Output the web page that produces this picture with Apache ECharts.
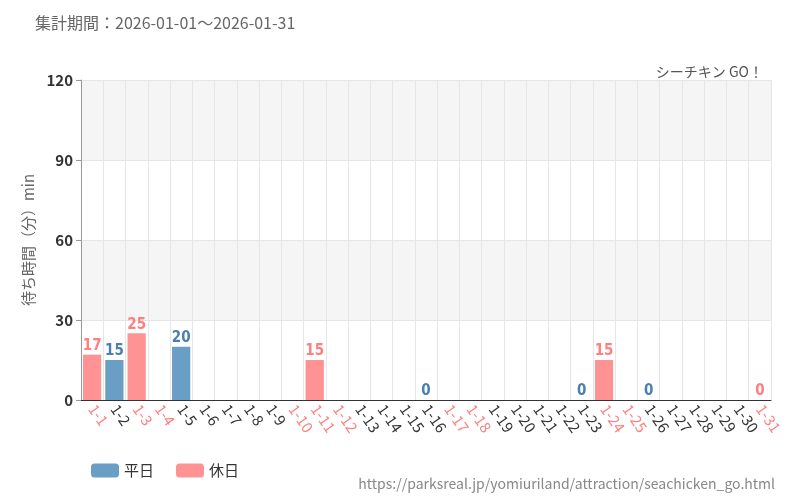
<!DOCTYPE html>
<html><head><meta charset="utf-8">
<script src="https://cdn.jsdelivr.net/npm/echarts@6/dist/echarts.min.js"></script>
<style>html,body{margin:0;padding:0;background:#fff}#main{width:800px;height:500px}</style>
</head><body><div id="main"></div>
<script>
var days = [];
for (var d = 1; d <= 31; d++) days.push('1-' + d);
var holidays = ['1-1','1-3','1-4','1-10','1-11','1-12','1-17','1-18','1-24','1-25','1-31'];
// waiting time per day, null = no data
var weekdayVals = [null,15,null,null,20,null,null,null,null,null,null,null,null,null,null,0,null,null,null,null,null,null,0,null,null,0,null,null,null,null,null];
var holidayVals = [17,null,25,null,null,null,null,null,null,null,15,null,null,null,null,null,null,null,null,null,null,null,null,15,null,null,null,null,null,null,0];
var yTicks = [0, 30, 60, 90, 120];

var font = '"Noto Sans CJK JP", "Noto Sans", sans-serif';
var myChart = echarts.init(document.getElementById('main'));
function lbl(color) {
    return {show: true, position: 'top', color: color, fontSize: 15, distance: 1, fontWeight: 'bold',
        fontFamily: '"Liberation Sans Narrow", "DejaVu Sans Condensed", sans-serif',
        formatter: function (p) { return p.value == null ? '' : p.value; }};
}
myChart.setOption({
    textStyle: {fontFamily: font},
    title: [
        {text: '集計期間：2026-01-01～2026-01-31', left: 30, top: 10, textStyle: {fontSize: 16, fontWeight: 'normal', color: '#666'}},
        {text: 'シーチキン GO！', right: 32, top: 60, textStyle: {fontSize: 14, fontWeight: 'normal', color: '#555'}},
        {text: 'https://parksreal.jp/yomiuriland/attraction/seachicken_go.html', right: 20, top: 472, textStyle: {fontSize: 14, fontWeight: 'normal', color: '#888'}}
    ],
    legend: {left: 86, top: 458, itemWidth: 28, itemHeight: 14, itemGap: 22,
        textStyle: {fontSize: 15, color: '#333'}, data: ['平日', '休日']},
    grid: {left: 81, right: 29, top: 80, bottom: 100},
    xAxis: {type: 'category', data: days,
        axisLine: {lineStyle: {color: '#333'}}, axisTick: {show: false},
        splitLine: {show: true, lineStyle: {color: '#e6e6e6'}},
        axisLabel: {interval: 0, rotate: -55, fontSize: 15, margin: 6,
            color: function (v) { return holidays.indexOf(v) >= 0 ? '#ff7f7f' : '#333'; }}},
    yAxis: {type: 'value', min: 0, max: 120, interval: 30,
        name: '待ち時間（分）min', nameLocation: 'middle', nameGap: 45,
        nameTextStyle: {fontSize: 15, color: '#666'},
        axisLine: {show: true, lineStyle: {color: '#999'}}, axisTick: {show: true, lineStyle: {color: '#999'}},
        axisLabel: {fontSize: 15, color: '#333', fontWeight: 'bold', formatter: function (v) { return yTicks.indexOf(v) >= 0 ? v : ''; }},
        splitLine: {lineStyle: {color: '#e6e6e6'}},
        splitArea: {show: true, areaStyle: {color: ['#fff', '#f5f5f5']}}},
    series: [
        {name: '平日', type: 'bar', stack: 'a', barWidth: '82%', data: weekdayVals,
            itemStyle: {color: '#6a9ec5'}, label: lbl('#4a7fb0')},
        {name: '休日', type: 'bar', stack: 'a', barWidth: '82%', data: holidayVals,
            itemStyle: {color: '#ff9393'}, label: lbl('#ff7f7f')}
    ]
});
</script></body></html>
